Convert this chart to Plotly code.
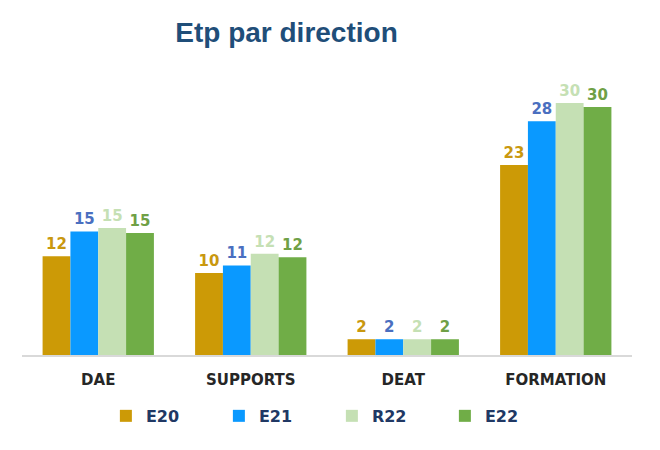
import plotly.graph_objects as go

categories = ["DAE", "SUPPORTS", "DEAT", "FORMATION"]
series_names = ["E20", "E21", "R22", "E22"]
e20 = [11.9, 9.9, 1.9, 22.9]
e21 = [14.9, 10.8, 1.9, 28.2]
r22 = [15.3, 12.2, 1.9, 30.4]
e22 = [14.7, 11.8, 1.9, 29.9]
values = [e20, e21, r22, e22]

bar_colors = ["#CC9A06", "#0A99FF", "#C5E0B4", "#70AD47"]
label_colors = ["#C9980F", "#4A6FC0", "#C5E0B4", "#6FA046"]

fig = go.Figure()
for name, vals, bc, lc in zip(series_names, values, bar_colors, label_colors):
    fig.add_trace(go.Bar(
        x=categories, y=vals, name=name,
        marker=dict(color=bc, line=dict(width=0)),
        texttemplate="%{y:.0f}", textposition="outside",
        textfont=dict(family="DejaVu Sans", size=15, color=lc, weight="bold"),
        cliponaxis=False,
    ))

fig.update_layout(
    width=660, height=450,
    paper_bgcolor="white", plot_bgcolor="white",
    margin=dict(l=14, r=36, t=70, b=103, autoexpand=False),
    barmode="group", bargap=0.27, bargroupgap=0,
    title=dict(text="<b>Etp par direction</b>", x=0.422, xanchor="center", y=0.947, yanchor="middle",
               font=dict(family="Liberation Sans", size=28, color="#1F4E79")),
    xaxis=dict(showgrid=False, showline=True, linecolor="#D9D9D9", linewidth=1.5,
               ticks="outside", ticklen=10, tickcolor="rgba(0,0,0,0)",
               tickfont=dict(family="DejaVu Sans", size=15, color="#262626", weight="bold")),
    yaxis=dict(range=[0, 33.4], showgrid=False, showticklabels=False, zeroline=False, showline=False),
    legend=dict(orientation="h", x=0.508, xanchor="center", y=-0.22, yanchor="middle",
                font=dict(family="DejaVu Sans", size=16, color="#203864", weight="bold"),
                entrywidth=68, itemwidth=30, traceorder="normal"),
    showlegend=True,
)

fig.write_html("out.html")
